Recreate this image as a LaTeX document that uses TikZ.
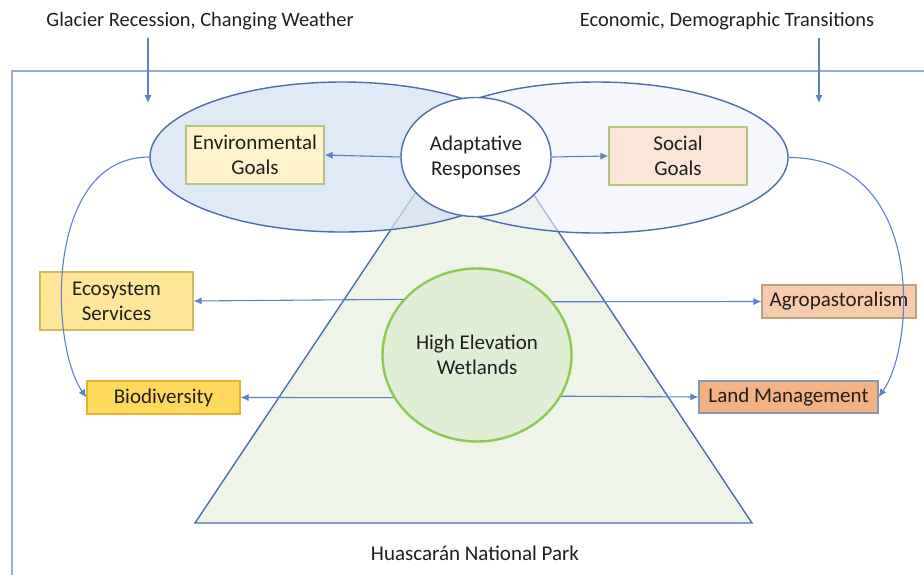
\documentclass[tikz,border=0pt]{standalone}
\usepackage{fontspec}
\setmainfont{Carlito}
\usetikzlibrary{shapes.geometric,arrows.meta}
\definecolor{ovalline}{HTML}{4A6EA9}
\definecolor{linkblue}{HTML}{5B82C8}
\definecolor{frameline}{HTML}{9AACCB}
\definecolor{envfill}{HTML}{D6E2F3}
\definecolor{socfill}{HTML}{EEF1FA}
\definecolor{parkfill}{HTML}{EEF5E8}
\definecolor{wetfill}{HTML}{E0EED6}
\definecolor{wetline}{HTML}{8CCB4F}
\definecolor{goalline}{HTML}{B3C67F}
\definecolor{envgoal}{HTML}{FFF2CC}
\definecolor{socgoal}{HTML}{FBE5D6}
\definecolor{ecofill}{HTML}{FFE699}
\definecolor{ecoline}{HTML}{CDBA5C}
\definecolor{biofill}{HTML}{FFD95C}
\definecolor{bioline}{HTML}{E3B42A}
\definecolor{agrofill}{HTML}{F8CBAD}
\definecolor{agroline}{HTML}{B9A27E}
\definecolor{landfill}{HTML}{F4B183}
\definecolor{landline}{HTML}{8497B0}
\begin{document}
\begin{tikzpicture}[x=0.5pt,y=0.5pt]
        \tikzset{oval/.style = {shape=ellipse,draw=ovalline,line width=0.7pt,inner sep=0pt,align=center}}
        \tikzset{box/.style = {shape=rectangle,draw,line width=0.6pt,inner sep=0pt,align=center,
                               text=black!88,font=\fontsize{10.5}{12.4}\selectfont}}
        \tikzset{lbl/.style = {text=black!88,font=\fontsize{10.5}{12.4}\selectfont}}
        \tikzset{toplbl/.style = {text=black!88,font=\fontsize{10.2}{12}\selectfont}}
        \tikzset{link/.style = {-{Latex[length=4pt,width=3.6pt]},draw=linkblue,line width=0.55pt}}
        \useasboundingbox (0,0) rectangle (924,575);
        % frame and park
        \draw[frameline,line width=0.6pt] (924,504) -- (12,504) -- (12,0);
        \draw[ovalline,fill=parkfill,line width=0.7pt] (474,470) -- (195,52) -- (752,52) -- cycle;
        % vertices
        \node[oval,fill=envfill,fill opacity=0.75,text opacity=1,minimum width=192pt,minimum height=75pt] (envell) at (342,418) {};
        \node[oval,fill=socfill,fill opacity=0.6,text opacity=1,minimum width=191.5pt,minimum height=75.5pt] (socell) at (596.5,417.5) {};
        \node[oval,fill=white,minimum width=75pt,minimum height=59.5pt,lbl] (adapt) at (476,418) {Adaptative\\Responses};
        \node[box,draw=goalline,fill=envgoal,minimum width=69pt,minimum height=29pt] (envgoal) at (255,420) {Environmental\\Goals};
        \node[box,draw=goalline,fill=socgoal,minimum width=69pt,minimum height=29pt] (socgoal) at (678,419) {Social\\Goals};
        \node[shape=ellipse,draw=wetline,line width=1.2pt,fill=wetfill,inner sep=0pt,align=center,lbl,
              minimum width=94.5pt,minimum height=86.5pt] (wet) at (477,220) {High Elevation\\Wetlands};
        \node[box,draw=ecoline,fill=ecofill,minimum width=76.5pt,minimum height=29pt] (eco) at (116.5,274) {Ecosystem\\Services};
        \node[box,draw=bioline,fill=biofill,minimum width=76.5pt,minimum height=16.5pt] (bio) at (163.5,177.5) {Biodiversity};
        \node[box,draw=agroline,fill=agrofill,minimum width=77pt,minimum height=16.5pt] (agro) at (839,273.5) {Agropastoralism};
        \node[box,draw=landline,fill=landfill,minimum width=89.5pt,minimum height=16pt] (land) at (788.5,178) {Land Management};
        \node[toplbl] (glacier) at (200,554) {Glacier Recession, Changing Weather};
        \node[toplbl] (econ) at (727,554) {Economic, Demographic Transitions};
        \node[lbl] (park) at (475,22) {Huascarán National Park};
        \coordinate (gtop) at (148,537);
        \coordinate (gend) at (148,472);
        \coordinate (etop) at (819,537);
        \coordinate (eend) at (819,472);
        % edges
        \draw[link] (gtop) -- (gend);
        \draw[link] (etop) -- (eend);
        \draw[link] (adapt.west) -- (envgoal.east);
        \draw[link] (adapt.east) -- (socgoal.west);
        \draw[link] (wet.143.8) -- (eco.east);
        \draw[link] (wet.35.75) -- (agro.west);
        \draw[link] (wet.207.3) -- (bio.east);
        \draw[link] (wet.-26.95) -- (land.west);
        \draw[link] (envell.west) .. controls +(-105,0) and +(-37,53) .. (bio.west);
        \draw[link] (socell.east) .. controls +(137,0) and +(37,52) .. (land.east);
\end{tikzpicture}
\end{document}
